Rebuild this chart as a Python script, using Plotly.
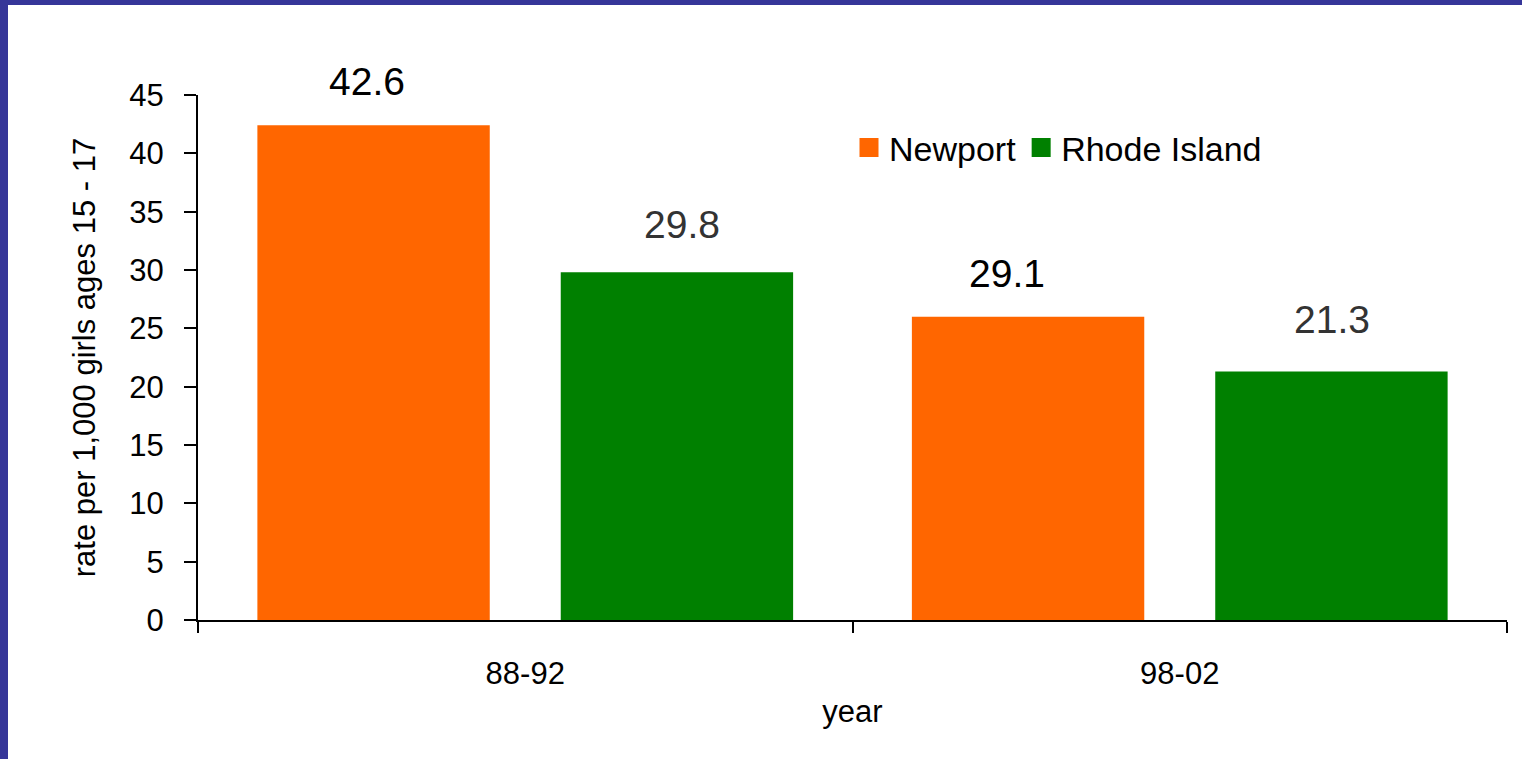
import plotly.graph_objects as go

# ---- data ----
years = ["88-92", "98-02"]
newport = [42.4, 26.0]          # bar heights as drawn
rhode_island = [29.8, 21.3]
newport_labels = ["42.6", "29.1"]   # value labels as printed
ri_labels = ["29.8", "21.3"]
y_ticks = [0, 5, 10, 15, 20, 25, 30, 35, 40, 45]

# ---- styling ----
W, H = 1522, 759
L, R, T, B = 198, 15, 95, 139
PW, PH = W - L - R, H - T - B
FONT = "Liberation Sans, Arial, sans-serif"
ORANGE = "#FF6600"
GREEN = "#008000"
BORDER = "#363699"
# pixel offsets (dx from category centre, dy above bar top) for the value labels
newport_label_offsets = [(-158, 44), (-173, 43)]
ri_label_offsets = [(157, 48), (152, 52)]

fig = go.Figure()
fig.add_trace(go.Bar(name="Newport", x=years, y=newport, showlegend=False,
                     marker=dict(color=ORANGE, line=dict(width=0))))
fig.add_trace(go.Bar(name="Rhode Island", x=years, y=rhode_island, showlegend=False,
                     marker=dict(color=GREEN, line=dict(width=0))))
# legend entries with larger square swatches
for name, col in [("Newport", ORANGE), ("Rhode Island", GREEN)]:
    fig.add_trace(go.Scatter(name=name, x=[None], y=[None], mode="markers", hoverinfo="skip",
                             marker=dict(symbol="square", size=22, color=col, line=dict(width=3, color=col))))

annotations = []
for vals, labs, offs, col in [(newport, newport_labels, newport_label_offsets, "#000000"),
                              (rhode_island, ri_labels, ri_label_offsets, "#333333")]:
    for cat, v, lab, (dx, dy) in zip(years, vals, labs, offs):
        annotations.append(dict(x=cat, y=v, xref="x", yref="y", text=lab, showarrow=False,
                                xshift=dx, yshift=dy, yanchor="middle",
                                font=dict(family=FONT, size=39, color=col)))

shapes = [
    # left border
    dict(type="rect", xref="paper", yref="paper", x0=-L / PW, x1=(8 - L) / PW,
         y0=-B / PH, y1=1 + T / PH, fillcolor=BORDER, line=dict(width=0), layer="above"),
    # top border
    dict(type="rect", xref="paper", yref="paper", x0=-L / PW, x1=1 + R / PW,
         y0=1 + (T - 5) / PH, y1=1 + T / PH, fillcolor=BORDER, line=dict(width=0), layer="above"),
]

fig.update_layout(
    width=W, height=H,
    margin=dict(l=L, r=R, t=T, b=B, pad=0, autoexpand=False),
    paper_bgcolor="white", plot_bgcolor="white",
    barmode="group", bargap=0.073, bargroupgap=0.234,
    font=dict(family=FONT, size=31, color="#000000"),
    showlegend=True,
    legend=dict(orientation="h", x=(849 - L) / PW, xanchor="left", y=(620 - 148) / PH, yanchor="middle",
                font=dict(family=FONT, size=34, color="#000000"), bgcolor="rgba(0,0,0,0)",
                itemclick=False, itemdoubleclick=False, traceorder="normal"),
    annotations=annotations,
    shapes=shapes,
    xaxis=dict(type="category", showline=True, linecolor="#000000", linewidth=2, ticks="outside",
               tickson="boundaries", automargin=False, fixedrange=True,
               ticklen=11, tickwidth=2, tickcolor="#000000", showgrid=False, zeroline=False,
               ticklabelstandoff=25,
               title=dict(text="year", font=dict(family=FONT, size=31), standoff=10),
               tickfont=dict(family=FONT, size=31)),
    yaxis=dict(range=[0, 45], tickvals=y_ticks, showline=True, linecolor="#000000", linewidth=2,
               ticks="outside", ticklen=12, tickwidth=2, tickcolor="#000000", showgrid=False, zeroline=False,
               ticklabelstandoff=14, automargin=False, fixedrange=True,
               title=dict(text="rate per 1,000 girls ages 15 - 17", font=dict(family=FONT, size=31), standoff=24),
               tickfont=dict(family=FONT, size=31)),
)

fig.write_html("out.html", config={"displayModeBar": False},
               post_script="document.body.style.margin='0';")
